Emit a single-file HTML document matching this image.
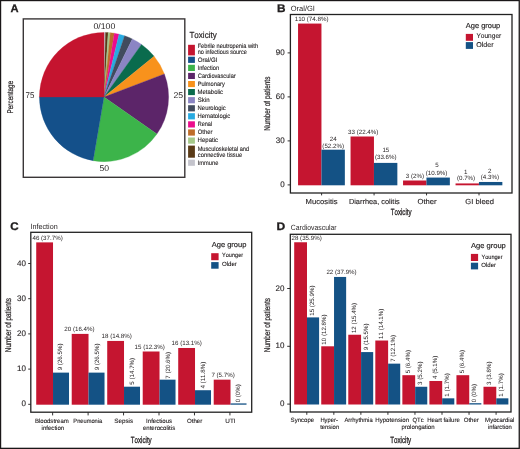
<!DOCTYPE html>
<html><head><meta charset="utf-8"><style>
html,body{margin:0;padding:0;background:#fff;}
svg{display:block;will-change:transform;}
text{font-family:"Liberation Sans", sans-serif;fill:#231F20;font-kerning:none;}
</style></head><body>
<svg width="520" height="449" viewBox="0 0 520 449" text-rendering="geometricPrecision">
<rect width="520" height="449" fill="#fff"/>
<text transform="translate(10.42,12.30) scale(1.0163,1)" font-size="11.0" font-weight="bold" fill="#000" stroke="#000" stroke-width="0.25">A</text>
<path d="M104.0,97.0 L104.000,32.400 A64.6,64.6 0 0 1 105.522,32.418 Z" fill="#C4C4CC" stroke="#C4C4CC" stroke-width="0.3"/>
<path d="M104.0,97.0 L105.522,32.418 A64.6,64.6 0 0 1 108.169,32.535 Z" fill="#5A3A17" stroke="#5A3A17" stroke-width="0.3"/>
<path d="M104.0,97.0 L108.169,32.535 A64.6,64.6 0 0 1 110.304,32.708 Z" fill="#A6C98A" stroke="#A6C98A" stroke-width="0.3"/>
<path d="M104.0,97.0 L110.304,32.708 A64.6,64.6 0 0 1 114.328,33.231 Z" fill="#BE6D2A" stroke="#BE6D2A" stroke-width="0.3"/>
<path d="M104.0,97.0 L114.328,33.231 A64.6,64.6 0 0 1 119.081,34.185 Z" fill="#EC0C8C" stroke="#EC0C8C" stroke-width="0.3"/>
<path d="M104.0,97.0 L119.081,34.185 A64.6,64.6 0 0 1 124.605,35.774 Z" fill="#27AAE1" stroke="#27AAE1" stroke-width="0.3"/>
<path d="M104.0,97.0 L124.605,35.774 A64.6,64.6 0 0 1 132.319,38.938 Z" fill="#414B5E" stroke="#414B5E" stroke-width="0.3"/>
<path d="M104.0,97.0 L132.319,38.938 A64.6,64.6 0 0 1 141.513,44.408 Z" fill="#8B85C4" stroke="#8B85C4" stroke-width="0.3"/>
<path d="M104.0,97.0 L141.513,44.408 A64.6,64.6 0 0 1 154.133,56.258 Z" fill="#0A6B4D" stroke="#0A6B4D" stroke-width="0.3"/>
<path d="M104.0,97.0 L154.133,56.258 A64.6,64.6 0 0 1 164.350,73.955 Z" fill="#F8921C" stroke="#F8921C" stroke-width="0.3"/>
<path d="M104.0,97.0 L164.350,73.955 A64.6,64.6 0 0 1 156.917,134.053 Z" fill="#5C2569" stroke="#5C2569" stroke-width="0.3"/>
<path d="M104.0,97.0 L156.917,134.053 A64.6,64.6 0 0 1 93.116,160.676 Z" fill="#3CB44A" stroke="#3CB44A" stroke-width="0.3"/>
<path d="M104.0,97.0 L93.116,160.676 A64.6,64.6 0 0 1 39.400,97.000 Z" fill="#14508A" stroke="#14508A" stroke-width="0.3"/>
<path d="M104.0,97.0 L39.400,97.000 A64.6,64.6 0 0 1 104.000,32.400 Z" fill="#C5142F" stroke="#C5142F" stroke-width="0.3"/>
<rect x="23.3" y="18.9" width="161.50" height="158.40" fill="none" stroke="#3a3637" stroke-width="1.4"/>
<text transform="translate(93.46,28.80) scale(1.0486,1)" font-size="8.3" fill="#333333">0/100</text>
<text transform="translate(173.46,97.80) scale(1.0512,1)" font-size="8.3" fill="#333333">25</text>
<text transform="translate(99.56,171.20) scale(1.0378,1)" font-size="8.3" fill="#333333">50</text>
<text transform="translate(25.49,97.80) scale(0.9577,1)" font-size="8.3" fill="#333333">75</text>
<text transform="translate(12.90,113.42) rotate(-90) scale(0.7681,1)" font-size="8.3" stroke="#231F20" stroke-width="0.22">Percentage</text>
<text transform="translate(189.42,38.40) scale(0.9152,1)" font-size="8.8" stroke="#231F20" stroke-width="0.2">Toxicity</text>
<rect x="188.10" y="44.80" width="6.80" height="10.60" fill="#C5142F"/>
<text transform="translate(197.64,48.10) scale(0.8988,1)" font-size="6.3" stroke="#231F20" stroke-width="0.12">Febrile neutropenia with</text>
<text transform="translate(197.73,54.40) scale(0.8747,1)" font-size="6.3" stroke="#231F20" stroke-width="0.12">no infectious source</text>
<rect x="188.10" y="56.70" width="6.80" height="6.20" fill="#14508A"/>
<text transform="translate(197.81,61.90) scale(0.9679,1)" font-size="6.3" stroke="#231F20" stroke-width="0.12">Oral/GI</text>
<rect x="188.10" y="64.80" width="6.80" height="6.20" fill="#3CB44A"/>
<text transform="translate(197.58,70.00) scale(0.9025,1)" font-size="6.3" stroke="#231F20" stroke-width="0.12">Infection</text>
<rect x="188.10" y="72.90" width="6.80" height="6.10" fill="#5C2569"/>
<text transform="translate(197.81,78.00) scale(0.9016,1)" font-size="6.3" stroke="#231F20" stroke-width="0.12">Cardiovascular</text>
<rect x="188.10" y="81.00" width="6.80" height="6.10" fill="#F8921C"/>
<text transform="translate(197.63,86.00) scale(0.9025,1)" font-size="6.3" stroke="#231F20" stroke-width="0.12">Pulmonary</text>
<rect x="188.10" y="89.00" width="6.80" height="6.10" fill="#0A6B4D"/>
<text transform="translate(197.61,94.00) scale(0.9437,1)" font-size="6.3" stroke="#231F20" stroke-width="0.12">Metabolic</text>
<rect x="188.10" y="97.10" width="6.80" height="6.20" fill="#8B85C4"/>
<text transform="translate(197.83,102.20) scale(0.9602,1)" font-size="6.3" stroke="#231F20" stroke-width="0.12">Skin</text>
<rect x="188.10" y="105.20" width="6.80" height="6.20" fill="#414B5E"/>
<text transform="translate(197.62,110.10) scale(0.9343,1)" font-size="6.3" stroke="#231F20" stroke-width="0.12">Neurologic</text>
<rect x="188.10" y="113.20" width="6.80" height="6.20" fill="#27AAE1"/>
<text transform="translate(197.62,118.20) scale(0.9291,1)" font-size="6.3" stroke="#231F20" stroke-width="0.12">Hematologic</text>
<rect x="188.10" y="121.30" width="6.80" height="6.20" fill="#EC0C8C"/>
<text transform="translate(197.64,126.40) scale(0.8826,1)" font-size="6.3" stroke="#231F20" stroke-width="0.12">Renal</text>
<rect x="188.10" y="129.40" width="6.80" height="6.20" fill="#BE6D2A"/>
<text transform="translate(197.82,134.40) scale(0.9249,1)" font-size="6.3" stroke="#231F20" stroke-width="0.12">Other</text>
<rect x="188.10" y="137.50" width="6.80" height="6.20" fill="#A6C98A"/>
<text transform="translate(197.61,142.40) scale(0.9575,1)" font-size="6.3" stroke="#231F20" stroke-width="0.12">Hepatic</text>
<rect x="188.10" y="145.60" width="6.80" height="12.10" fill="#5A3A17"/>
<text transform="translate(197.63,150.50) scale(0.9028,1)" font-size="6.3" stroke="#231F20" stroke-width="0.12">Musculoskeletal and</text>
<text transform="translate(197.85,156.60) scale(0.9167,1)" font-size="6.3" stroke="#231F20" stroke-width="0.12">connective tissue</text>
<rect x="188.10" y="159.70" width="6.80" height="6.10" fill="#C4C4CC"/>
<text transform="translate(197.57,164.70) scale(0.9134,1)" font-size="6.3" stroke="#231F20" stroke-width="0.12">Immune</text>
<text transform="translate(276.91,12.20) scale(1.0733,1)" font-size="11.0" font-weight="bold" fill="#000" stroke="#000" stroke-width="0.25">B</text>
<text transform="translate(290.75,11.00)" font-size="7.5">Oral/GI</text>
<line x1="287.60" y1="184.90" x2="290.40" y2="184.90" stroke="#333333" stroke-width="1"/>
<text transform="translate(280.26,187.00)" font-size="8.0" fill="#333333" stroke="#231F20" stroke-width="0.12">0</text>
<line x1="287.60" y1="140.90" x2="290.40" y2="140.90" stroke="#333333" stroke-width="1"/>
<text transform="translate(275.81,143.00)" font-size="8.0" fill="#333333" stroke="#231F20" stroke-width="0.12">30</text>
<line x1="287.60" y1="96.90" x2="290.40" y2="96.90" stroke="#333333" stroke-width="1"/>
<text transform="translate(275.81,99.00)" font-size="8.0" fill="#333333" stroke="#231F20" stroke-width="0.12">60</text>
<line x1="287.60" y1="52.90" x2="290.40" y2="52.90" stroke="#333333" stroke-width="1"/>
<text transform="translate(275.81,55.00)" font-size="8.0" fill="#333333" stroke="#231F20" stroke-width="0.12">90</text>
<text transform="translate(270.20,130.72) rotate(-90) scale(0.7527,1)" font-size="8.5" stroke="#231F20" stroke-width="0.22">Number of patients</text>
<text transform="translate(390.76,214.80) scale(0.6803,1)" font-size="9.0" stroke="#231F20" stroke-width="0.3">Toxicity</text>
<rect x="298.05" y="23.57" width="23.40" height="161.73" fill="#C51530"/>
<rect x="321.45" y="149.70" width="23.40" height="35.60" fill="#145285"/>
<rect x="350.55" y="136.50" width="23.40" height="48.80" fill="#C51530"/>
<rect x="373.95" y="162.90" width="23.40" height="22.40" fill="#145285"/>
<rect x="403.05" y="180.50" width="23.40" height="4.80" fill="#C51530"/>
<rect x="426.45" y="177.57" width="23.40" height="7.73" fill="#145285"/>
<rect x="455.55" y="183.43" width="23.40" height="1.87" fill="#C51530"/>
<rect x="478.95" y="181.97" width="23.40" height="3.33" fill="#145285"/>
<text transform="translate(294.73,21.40)" font-size="6.2">110 (74.8%)</text>
<text transform="translate(329.79,141.00)" font-size="6.2">24</text>
<text transform="translate(322.35,148.40)" font-size="6.2">(52.2%)</text>
<text transform="translate(348.11,133.50)" font-size="6.2">33 (22.4%)</text>
<text transform="translate(382.40,151.80)" font-size="6.2">15</text>
<text transform="translate(374.90,158.80)" font-size="6.2">(33.6%)</text>
<text transform="translate(405.84,178.20)" font-size="6.2">3 (2%)</text>
<text transform="translate(435.18,167.40)" font-size="6.2">5</text>
<text transform="translate(425.75,174.80)" font-size="6.2">(10.9%)</text>
<text transform="translate(464.09,173.70)" font-size="6.2">1</text>
<text transform="translate(456.92,180.30)" font-size="6.2">(0.7%)</text>
<text transform="translate(487.93,172.70)" font-size="6.2">2</text>
<text transform="translate(480.72,179.30)" font-size="6.2">(4.3%)</text>
<line x1="321.60" y1="193.00" x2="321.60" y2="195.40" stroke="#333333" stroke-width="1"/>
<line x1="374.07" y1="193.00" x2="374.07" y2="195.40" stroke="#333333" stroke-width="1"/>
<line x1="426.54" y1="193.00" x2="426.54" y2="195.40" stroke="#333333" stroke-width="1"/>
<line x1="479.01" y1="193.00" x2="479.01" y2="195.40" stroke="#333333" stroke-width="1"/>
<text transform="translate(305.62,203.80) scale(1.0504,1)" font-size="7.3" fill="#333333" stroke="#231F20" stroke-width="0.12">Mucositis</text>
<text transform="translate(348.89,203.80) scale(1.0113,1)" font-size="7.3" fill="#333333" stroke="#231F20" stroke-width="0.12">Diarrhea, colitis</text>
<text transform="translate(417.44,203.80) scale(1.0511,1)" font-size="7.3" fill="#333333" stroke="#231F20" stroke-width="0.12">Other</text>
<text transform="translate(465.32,203.80) scale(1.0427,1)" font-size="7.3" fill="#333333" stroke="#231F20" stroke-width="0.12">GI bleed</text>
<rect x="290.4" y="14.5" width="221.60" height="178.50" fill="none" stroke="#222" stroke-width="1.3"/>
<text transform="translate(465.79,27.70) scale(1.0220,1)" font-size="7.3" fill="#111" stroke="#111" stroke-width="0.15">Age group</text>
<rect x="465.80" y="33.90" width="7.20" height="6.90" fill="#C51530"/>
<rect x="465.80" y="42.10" width="7.20" height="6.80" fill="#145285"/>
<text transform="translate(476.46,37.90) scale(0.9353,1)" font-size="7.0" stroke="#231F20" stroke-width="0.12">Younger</text>
<text transform="translate(476.26,46.60) scale(1.0138,1)" font-size="7.0" stroke="#231F20" stroke-width="0.12">Older</text>
<text transform="translate(10.22,229.90) scale(1.0567,1)" font-size="11.0" font-weight="bold" fill="#000" stroke="#000" stroke-width="0.25">C</text>
<text transform="translate(30.54,229.10) scale(0.9568,1)" font-size="7.5">Infection</text>
<line x1="28.20" y1="404.30" x2="30.80" y2="404.30" stroke="#333333" stroke-width="1"/>
<text transform="translate(21.46,406.40)" font-size="8.0" fill="#333333" stroke="#231F20" stroke-width="0.12">0</text>
<line x1="28.20" y1="369.10" x2="30.80" y2="369.10" stroke="#333333" stroke-width="1"/>
<text transform="translate(17.01,371.20)" font-size="8.0" fill="#333333" stroke="#231F20" stroke-width="0.12">10</text>
<line x1="28.20" y1="333.90" x2="30.80" y2="333.90" stroke="#333333" stroke-width="1"/>
<text transform="translate(17.01,336.00)" font-size="8.0" fill="#333333" stroke="#231F20" stroke-width="0.12">20</text>
<line x1="28.20" y1="298.70" x2="30.80" y2="298.70" stroke="#333333" stroke-width="1"/>
<text transform="translate(17.01,300.80)" font-size="8.0" fill="#333333" stroke="#231F20" stroke-width="0.12">30</text>
<line x1="28.20" y1="263.50" x2="30.80" y2="263.50" stroke="#333333" stroke-width="1"/>
<text transform="translate(17.01,265.60)" font-size="8.0" fill="#333333" stroke="#231F20" stroke-width="0.12">40</text>
<text transform="translate(10.70,352.23) rotate(-90) scale(0.7541,1)" font-size="8.5" stroke="#231F20" stroke-width="0.22">Number of patients</text>
<text transform="translate(130.76,442.60) scale(0.6869,1)" font-size="9.0" stroke="#231F20" stroke-width="0.3">Toxicity</text>
<rect x="36.22" y="242.38" width="16.80" height="162.32" fill="#C51530"/>
<rect x="53.02" y="372.62" width="16.00" height="32.08" fill="#145285"/>
<rect x="71.72" y="333.90" width="16.80" height="70.80" fill="#C51530"/>
<rect x="88.52" y="372.62" width="16.00" height="32.08" fill="#145285"/>
<rect x="107.22" y="340.94" width="16.80" height="63.76" fill="#C51530"/>
<rect x="124.02" y="386.70" width="16.00" height="18.00" fill="#145285"/>
<rect x="142.72" y="351.50" width="16.80" height="53.20" fill="#C51530"/>
<rect x="159.52" y="379.66" width="16.00" height="25.04" fill="#145285"/>
<rect x="178.22" y="347.98" width="16.80" height="56.72" fill="#C51530"/>
<rect x="195.02" y="390.22" width="16.00" height="14.48" fill="#145285"/>
<rect x="213.72" y="379.66" width="16.80" height="25.04" fill="#C51530"/>
<rect x="230.52" y="403.40" width="16.00" height="1.30" fill="#145285"/>
<text transform="translate(32.46,240.38)" font-size="6.2">46 (37.7%)</text>
<text transform="translate(61.75,370.29) rotate(-90)" font-size="6.2">9 (26.5%)</text>
<line x1="52.64" y1="412.20" x2="52.64" y2="415.40" stroke="#333333" stroke-width="1"/>
<text transform="translate(34.90,423.00) scale(0.9767,1)" font-size="6.2" fill="#333333" stroke="#231F20" stroke-width="0.12">Bloodstream</text>
<text transform="translate(41.59,429.80) scale(0.9787,1)" font-size="6.2" fill="#333333" stroke="#231F20" stroke-width="0.12">infection</text>
<text transform="translate(64.29,331.40)" font-size="6.2">20 (16.4%)</text>
<text transform="translate(98.60,370.29) rotate(-90)" font-size="6.2">9 (26.5%)</text>
<line x1="88.10" y1="412.20" x2="88.10" y2="415.40" stroke="#333333" stroke-width="1"/>
<text transform="translate(73.33,423.00) scale(0.9236,1)" font-size="6.2" fill="#333333" stroke="#231F20" stroke-width="0.12">Pneumonia</text>
<text transform="translate(101.53,338.44)" font-size="6.2">18 (14.8%)</text>
<text transform="translate(133.85,384.65) rotate(-90)" font-size="6.2">5 (14.7%)</text>
<line x1="123.55" y1="412.20" x2="123.55" y2="415.40" stroke="#333333" stroke-width="1"/>
<text transform="translate(114.21,423.00) scale(1.0164,1)" font-size="6.2" fill="#333333" stroke="#231F20" stroke-width="0.12">Sepsis</text>
<text transform="translate(134.53,349.00)" font-size="6.2">15 (12.3%)</text>
<text transform="translate(169.70,378.72) rotate(-90)" font-size="6.2">7 (20.6%)</text>
<line x1="159.01" y1="412.20" x2="159.01" y2="415.40" stroke="#333333" stroke-width="1"/>
<text transform="translate(146.04,423.00) scale(0.9867,1)" font-size="6.2" fill="#333333" stroke="#231F20" stroke-width="0.12">Infectious</text>
<text transform="translate(142.94,429.80) scale(0.9756,1)" font-size="6.2" fill="#333333" stroke="#231F20" stroke-width="0.12">enterocolitis</text>
<text transform="translate(171.53,345.48)" font-size="6.2">16 (13.1%)</text>
<text transform="translate(205.20,388.54) rotate(-90)" font-size="6.2">4 (11.8%)</text>
<line x1="194.47" y1="412.20" x2="194.47" y2="415.40" stroke="#333333" stroke-width="1"/>
<text transform="translate(186.91,423.00) scale(0.9928,1)" font-size="6.2" fill="#333333" stroke="#231F20" stroke-width="0.12">Other</text>
<text transform="translate(211.38,377.16)" font-size="6.2">7 (5.7%)</text>
<text transform="translate(240.00,402.34) rotate(-90)" font-size="6.2">0 (0%)</text>
<line x1="229.93" y1="412.20" x2="229.93" y2="415.40" stroke="#333333" stroke-width="1"/>
<text transform="translate(225.31,423.00) scale(1.0295,1)" font-size="6.2" fill="#333333" stroke="#231F20" stroke-width="0.12">UTI</text>
<rect x="30.8" y="232.3" width="220.90" height="179.90" fill="none" stroke="#222" stroke-width="1.3"/>
<text transform="translate(211.69,247.40) scale(1.0310,1)" font-size="7.3" fill="#111" stroke="#111" stroke-width="0.15">Age group</text>
<rect x="211.20" y="253.20" width="7.40" height="7.00" fill="#C51530"/>
<rect x="211.20" y="262.10" width="7.40" height="6.60" fill="#145285"/>
<text transform="translate(222.08,257.40) scale(0.9112,1)" font-size="6.1" stroke="#231F20" stroke-width="0.12">Younger</text>
<text transform="translate(221.91,265.90) scale(1.0051,1)" font-size="6.1" stroke="#231F20" stroke-width="0.12">Older</text>
<text transform="translate(276.49,230.00) scale(1.0969,1)" font-size="11.0" font-weight="bold" fill="#000" stroke="#000" stroke-width="0.25">D</text>
<text transform="translate(290.85,230.00) scale(0.9149,1)" font-size="7.5">Cardiovascular</text>
<line x1="287.20" y1="404.10" x2="290.30" y2="404.10" stroke="#333333" stroke-width="1"/>
<text transform="translate(279.96,406.20)" font-size="8.0" fill="#333333" stroke="#231F20" stroke-width="0.12">0</text>
<line x1="287.20" y1="346.30" x2="290.30" y2="346.30" stroke="#333333" stroke-width="1"/>
<text transform="translate(275.51,348.40)" font-size="8.0" fill="#333333" stroke="#231F20" stroke-width="0.12">10</text>
<line x1="287.20" y1="288.50" x2="290.30" y2="288.50" stroke="#333333" stroke-width="1"/>
<text transform="translate(275.51,290.60)" font-size="8.0" fill="#333333" stroke="#231F20" stroke-width="0.12">20</text>
<text transform="translate(270.20,352.23) rotate(-90) scale(0.7541,1)" font-size="8.5" stroke="#231F20" stroke-width="0.22">Number of patients</text>
<text transform="translate(390.16,442.60) scale(0.6902,1)" font-size="9.0" stroke="#231F20" stroke-width="0.3">Toxicity</text>
<rect x="294.20" y="242.26" width="12.80" height="162.24" fill="#C51530"/>
<rect x="307.00" y="317.40" width="12.10" height="87.10" fill="#145285"/>
<rect x="321.24" y="346.30" width="12.80" height="58.20" fill="#C51530"/>
<rect x="334.04" y="276.94" width="12.10" height="127.56" fill="#145285"/>
<rect x="348.28" y="334.74" width="12.80" height="69.76" fill="#C51530"/>
<rect x="361.08" y="352.08" width="12.10" height="52.42" fill="#145285"/>
<rect x="375.32" y="340.52" width="12.80" height="63.98" fill="#C51530"/>
<rect x="388.12" y="363.64" width="12.10" height="40.86" fill="#145285"/>
<rect x="402.36" y="375.20" width="12.80" height="29.30" fill="#C51530"/>
<rect x="415.16" y="386.76" width="12.10" height="17.74" fill="#145285"/>
<rect x="429.40" y="380.98" width="12.80" height="23.52" fill="#C51530"/>
<rect x="442.20" y="398.32" width="12.10" height="6.18" fill="#145285"/>
<rect x="456.44" y="375.20" width="12.80" height="29.30" fill="#C51530"/>
<rect x="469.24" y="403.20" width="12.10" height="1.30" fill="#145285"/>
<rect x="483.48" y="386.76" width="12.80" height="17.74" fill="#C51530"/>
<rect x="496.28" y="398.32" width="12.10" height="6.18" fill="#145285"/>
<text transform="translate(291.49,240.46)" font-size="6.2">28 (35.9%)</text>
<text transform="translate(314.05,315.77) rotate(-90)" font-size="6.2">15 (25.9%)</text>
<line x1="306.80" y1="412.00" x2="306.80" y2="414.80" stroke="#333333" stroke-width="1"/>
<text transform="translate(326.40,344.67) rotate(-90)" font-size="6.2">10 (12.8%)</text>
<text transform="translate(326.39,274.34)" font-size="6.2">22 (37.9%)</text>
<line x1="333.84" y1="412.00" x2="333.84" y2="414.80" stroke="#333333" stroke-width="1"/>
<text transform="translate(355.63,333.11) rotate(-90)" font-size="6.2">12 (15.4%)</text>
<text transform="translate(368.13,350.27) rotate(-90)" font-size="6.2">9 (15.5%)</text>
<line x1="360.88" y1="412.00" x2="360.88" y2="414.80" stroke="#333333" stroke-width="1"/>
<text transform="translate(382.67,338.89) rotate(-90)" font-size="6.2">11 (14.1%)</text>
<text transform="translate(395.17,361.86) rotate(-90)" font-size="6.2">7 (12.1%)</text>
<line x1="387.92" y1="412.00" x2="387.92" y2="414.80" stroke="#333333" stroke-width="1"/>
<text transform="translate(409.71,373.35) rotate(-90)" font-size="6.2">5 (6.4%)</text>
<text transform="translate(422.21,384.90) rotate(-90)" font-size="6.2">3 (5.2%)</text>
<line x1="414.96" y1="412.00" x2="414.96" y2="414.80" stroke="#333333" stroke-width="1"/>
<text transform="translate(436.75,379.02) rotate(-90)" font-size="6.2">4 (5.1%)</text>
<text transform="translate(449.25,396.69) rotate(-90)" font-size="6.2">1 (1.7%)</text>
<line x1="442.00" y1="412.00" x2="442.00" y2="414.80" stroke="#333333" stroke-width="1"/>
<text transform="translate(463.79,373.35) rotate(-90)" font-size="6.2">5 (6.4%)</text>
<text transform="translate(476.29,402.24) rotate(-90)" font-size="6.2">0 (0%)</text>
<line x1="469.04" y1="412.00" x2="469.04" y2="414.80" stroke="#333333" stroke-width="1"/>
<text transform="translate(490.83,384.90) rotate(-90)" font-size="6.2">3 (3.8%)</text>
<text transform="translate(503.33,396.69) rotate(-90)" font-size="6.2">1 (1.7%)</text>
<line x1="496.08" y1="412.00" x2="496.08" y2="414.80" stroke="#333333" stroke-width="1"/>
<text transform="translate(290.62,422.30) scale(0.9800,1)" font-size="6.2" fill="#333333" stroke="#231F20" stroke-width="0.12">Syncope</text>
<text transform="translate(320.42,422.30) scale(0.9372,1)" font-size="6.2" fill="#333333" stroke="#231F20" stroke-width="0.12">Hyper-</text>
<text transform="translate(320.21,429.40) scale(0.9489,1)" font-size="6.2" fill="#333333" stroke="#231F20" stroke-width="0.12">tension</text>
<text transform="translate(344.49,422.30) scale(0.9412,1)" font-size="6.2" fill="#333333" stroke="#231F20" stroke-width="0.12">Arrhythmia</text>
<text transform="translate(375.30,422.30) scale(0.9835,1)" font-size="6.2" fill="#333333" stroke="#231F20" stroke-width="0.12">Hypotension</text>
<text transform="translate(412.42,422.30) scale(0.9598,1)" font-size="6.2" fill="#333333" stroke="#231F20" stroke-width="0.12">QTc</text>
<text transform="translate(401.41,429.40) scale(0.9722,1)" font-size="6.2" fill="#333333" stroke="#231F20" stroke-width="0.12">prolongation</text>
<text transform="translate(427.21,422.30) scale(0.9640,1)" font-size="6.2" fill="#333333" stroke="#231F20" stroke-width="0.12">Heart failure</text>
<text transform="translate(463.71,422.30) scale(0.9795,1)" font-size="6.2" fill="#333333" stroke="#231F20" stroke-width="0.12">Other</text>
<text transform="translate(485.10,422.30) scale(0.9775,1)" font-size="6.2" fill="#333333" stroke="#231F20" stroke-width="0.12">Myocardial</text>
<text transform="translate(487.91,429.40) scale(0.9450,1)" font-size="6.2" fill="#333333" stroke="#231F20" stroke-width="0.12">infarction</text>
<rect x="290.3" y="234.3" width="220.70" height="177.70" fill="none" stroke="#222" stroke-width="1.3"/>
<text transform="translate(470.89,248.00) scale(1.0370,1)" font-size="7.3" fill="#111" stroke="#111" stroke-width="0.15">Age group</text>
<rect x="470.90" y="253.90" width="7.20" height="7.10" fill="#C51530"/>
<rect x="470.90" y="262.70" width="7.20" height="6.70" fill="#145285"/>
<text transform="translate(481.48,258.60) scale(0.9156,1)" font-size="6.1" stroke="#231F20" stroke-width="0.12">Younger</text>
<text transform="translate(481.31,267.00) scale(0.9913,1)" font-size="6.1" stroke="#231F20" stroke-width="0.12">Older</text>
<rect x="0.55" y="0.55" width="518.7" height="447.8" fill="none" stroke="#1a1718" stroke-width="1.3"/>
</svg></body></html>
